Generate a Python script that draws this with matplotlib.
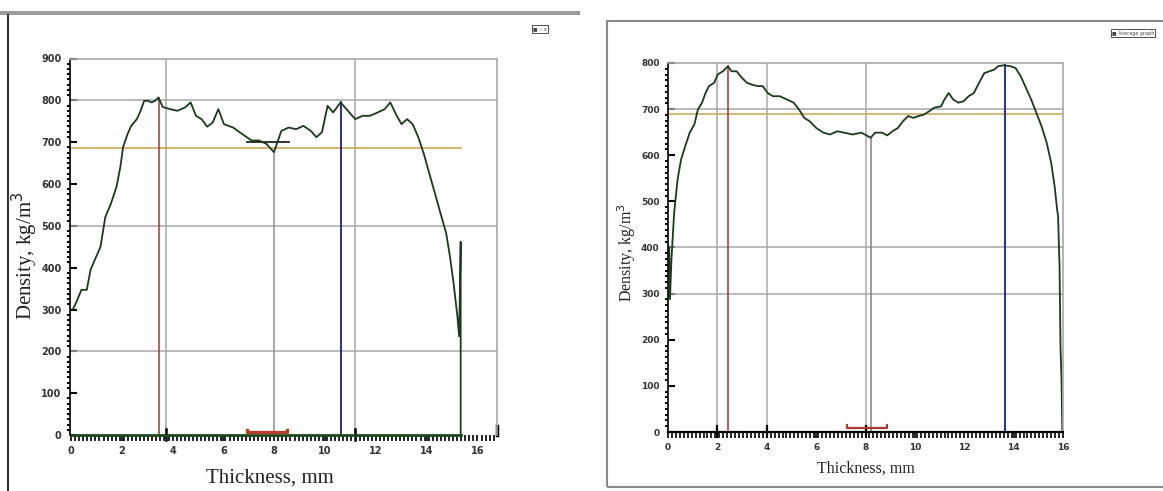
import matplotlib
matplotlib.use("Agg")
import matplotlib.pyplot as plt
from matplotlib.patches import Rectangle
import numpy as np

# ---- left profile (screenshot 1) ----
left_x = [0.0, 0.07, 0.19, 0.41, 0.62, 0.77, 0.99, 1.16, 1.35, 1.57, 1.79, 1.94, 2.05, 2.23, 2.37,
          2.59, 2.74, 2.88, 3.03, 3.17, 3.32, 3.44, 3.61, 3.9, 4.19, 4.49, 4.71, 4.92, 5.14, 5.36,
          5.58, 5.8, 6.02, 6.38, 6.82, 7.11, 7.4, 7.69, 7.99, 8.28, 8.57, 8.86, 9.15, 9.44, 9.66,
          9.88, 10.1, 10.32, 10.61, 10.9, 11.19, 11.48, 11.77, 12.07, 12.35, 12.57, 12.79, 13.01,
          13.23, 13.45, 13.67, 13.89, 14.11, 14.33, 14.55, 14.77, 14.92, 15.06, 15.21, 15.28,
          15.34, 15.34]
left_y = [300, 300, 315, 347, 347, 395, 426, 450, 521, 553, 593, 640, 688, 720, 739,
          755, 775, 799, 799, 795, 799, 807, 784, 779, 775, 783, 795, 763, 755, 737,
          747, 779, 743, 735, 716, 704, 704, 696, 676, 727, 735, 731, 739, 727, 712,
          724, 787, 771, 795, 775, 755, 763, 763, 771, 779, 795, 767, 743,
          755, 743, 712, 672, 624, 577, 529, 482, 426, 363, 284, 236,
          462, 0]
left_xticks = [0, 2, 4, 6, 8, 10, 12, 14, 16]
left_yticks = [0, 100, 200, 300, 400, 500, 600, 700, 800, 900]
left_vgrid = [3.74, 11.18]
left_hgrid = [200, 500, 800]
left_avg = 685
left_red, left_blue, left_mid = 3.47, 10.63, 8.01
left_core = (6.93, 8.6, 700)
left_bracket = (6.93, 8.49)

# ---- right profile (screenshot 2) ----
right_x = [0.05, 0.08, 0.14, 0.25, 0.39, 0.53, 0.7, 0.88, 1.07, 1.21, 1.38, 1.52, 1.66, 1.87, 2.01,
           2.22, 2.43, 2.57, 2.78, 2.99, 3.2, 3.41, 3.62, 3.83, 4.04, 4.25, 4.53, 4.81, 5.09,
           5.31, 5.52, 5.73, 6.01, 6.29, 6.57, 6.85, 7.13, 7.48, 7.83, 8.21, 8.39, 8.67, 8.88,
           9.09, 9.31, 9.52, 9.73, 9.94, 10.15, 10.36, 10.57, 10.78, 11.06, 11.2, 11.37, 11.55,
           11.76, 11.97, 12.18, 12.39, 12.6, 12.81, 13.02, 13.23, 13.37, 13.59, 13.87, 14.08,
           14.29, 14.5, 14.71, 14.92, 15.13, 15.34, 15.52, 15.66, 15.76, 15.8, 15.86, 15.9,
           15.94, 15.97]
right_y = [400, 288, 375, 476, 548, 591, 620, 649, 667, 699, 714, 735, 750, 757, 775,
           782, 793, 782, 782, 768, 757, 753, 750, 750, 735, 728, 728, 721, 714,
           699, 681, 674, 659, 649, 645, 652, 649, 645, 649, 638, 649, 649, 643,
           652, 659, 674, 685, 681, 685, 688, 695, 703, 706, 721, 735, 721,
           714, 717, 728, 735, 757, 778, 782, 786, 793, 795, 793, 789,
           771, 746, 721, 692, 663, 627, 584, 533, 483, 468, 360, 180,
           115, 0]
right_xticks = [0, 2, 4, 6, 8, 10, 12, 14, 16]
right_yticks = [0, 100, 200, 300, 400, 500, 600, 700, 800]
right_vgrid = [2, 4, 8]
right_hgrid = [300, 400, 700]
right_avg = 690
right_red, right_blue, right_mid = 2.43, 13.66, 8.21
right_bracket = (7.24, 8.88)

W, H = 1163, 491
CURVE = "#1c3a1c"
GRID = "#a8a8a8"


def box(x0, y0, x1, y1):
    # pixel box (top-left origin) -> figure rect
    return [x0 / W, (H - y1) / H, (x1 - x0) / W, (y1 - y0) / H]


def style_axes(ax, xlim, ylim, xticks, yticks, tsize, xpad):
    ax.set_xlim(*xlim)
    ax.set_ylim(*ylim)
    ax.set_xticks(xticks)
    ax.set_yticks(yticks)
    ax.set_xticklabels([str(t) for t in xticks])
    ax.set_yticklabels([str(t) for t in yticks])
    ax.set_xticks(np.arange(0, xlim[1], 0.16), minor=True)
    ax.set_yticks(np.arange(0, ylim[1], 12.5), minor=True)
    ax.tick_params(axis="x", which="major", direction="out", length=4, width=1.2,
                   labelsize=tsize, pad=xpad, colors="black")
    ax.tick_params(axis="x", which="minor", direction="out", length=4, width=1.2)
    ax.tick_params(axis="y", which="major", direction="in", length=5, width=1.5,
                   labelsize=tsize, pad=6)
    ax.tick_params(axis="y", which="minor", direction="out", length=2, width=1.4)
    for lab in ax.get_xticklabels() + ax.get_yticklabels():
        lab.set_fontweight("bold")
        lab.set_color("#333333")
        lab.set_family("DejaVu Sans")
    for s in ("top", "right"):
        ax.spines[s].set_color(GRID)
        ax.spines[s].set_linewidth(1.2)
    ax.spines["left"].set_linewidth(1.2)
    ax.spines["bottom"].set_linewidth(1.6)


fig = plt.figure(figsize=(W / 100, H / 100), dpi=100)

# window frames
fig.patches.append(Rectangle((0, 1 - 15 / H), 580 / W, 4 / H, transform=fig.transFigure,
                             facecolor="#9c9c9c", edgecolor="none"))
fig.lines.append(plt.Line2D([8 / W, 8 / W], [0, 1 - 15 / H], transform=fig.transFigure,
                            color="#333333", lw=1.5))
fig.patches.append(Rectangle((607 / W, 4 / H), 0.6, 1 - 25 / H, transform=fig.transFigure,
                             facecolor="none", edgecolor="#8a8a8a", lw=1.5))

# ---------------- left chart ----------------
ax1 = fig.add_axes(box(70, 58.5, 497, 435))
style_axes(ax1, (-0.04, 16.77), (0, 900), left_xticks, left_yticks, 7, 4)
for g in left_vgrid:
    ax1.axvline(g, color=GRID, lw=1.1)
    ax1.plot([g, g], [-12, 14], color="black", lw=1.8, clip_on=False)
for g in left_hgrid:
    ax1.axhline(g, color=GRID, lw=1.1)
ax1.plot([0, left_x[-1]], [left_avg, left_avg], color="#c8a850", lw=1.2)
ax1.plot([left_red, left_red], [0, 805], color="#b03030", lw=1.1)
ax1.plot([left_blue, left_blue], [0, 795], color="#202080", lw=1.3)
ax1.plot([left_mid, left_mid], [0, 676], color="#909090", lw=1.1)
ax1.plot([left_core[0], left_core[1]], [left_core[2], left_core[2]], color="#1c2a1c", lw=1.3)
ax1.plot(left_x, left_y, color=CURVE, lw=1.3)
ax1.plot([0, left_x[-1]], [0, 0], color="#1f4a1f", lw=2.0, clip_on=False)
ax1.plot([left_bracket[0], left_bracket[0], left_bracket[1], left_bracket[1]],
         [12, 7, 7, 12], color="#b5402c", lw=2.4)
ax1.plot([16.77, 16.77], [0, 22], color="black", lw=2.5, clip_on=False)
ax1.spines["bottom"].set_visible(False)

fig.text(270 / W, 1 - 478 / H, "Thickness, mm", ha="center", va="center",
         fontsize=15, family="Liberation Serif", color="#222222")
fig.text(25 / W, 1 - 256 / H, "Density, kg/m$^3$", ha="center", va="center",
         rotation=90, fontsize=15, family="Liberation Serif", color="#222222")

# ---------------- right chart ----------------
ax2 = fig.add_axes(box(668, 63, 1063, 432))
style_axes(ax2, (0, 16), (0, 800), right_xticks, right_yticks, 6.5, 4)
for g in right_vgrid:
    ax2.axvline(g, color=GRID, lw=1.1)
    ax2.plot([g, g], [-10, 14], color="black", lw=1.6, clip_on=False)
for g in right_hgrid:
    ax2.axhline(g, color=GRID, lw=1.1)
ax2.plot([0, 16], [right_avg, right_avg], color="#c8b060", lw=1.2)
ax2.plot([right_red, right_red], [0, 793], color="#b03030", lw=1.1)
ax2.plot([right_blue, right_blue], [0, 795], color="#2030a0", lw=1.4)
ax2.plot([right_mid, right_mid], [0, 638], color="#808080", lw=1.1)
ax2.plot(right_x, right_y, color=CURVE, lw=1.3)
ax2.plot([right_bracket[0], right_bracket[0], right_bracket[1], right_bracket[1]],
         [16, 8, 8, 16], color="#a83a30", lw=1.6)

fig.text(866 / W, 1 - 469 / H, "Thickness, mm", ha="center", va="center",
         fontsize=11.5, family="Liberation Serif", color="#222222")
fig.text(627 / W, 1 - 253 / H, "Density, kg/m$^3$", ha="center", va="center",
         rotation=90, fontsize=11.5, family="Liberation Serif", color="#222222")

# tiny legend boxes from the software windows
fig.text(533 / W, 1 - 29 / H, "\u25a0 :: x", ha="left", va="center", fontsize=3.5,
         color="#444444", bbox=dict(facecolor="white", edgecolor="#333333", lw=0.6, pad=0.8))
fig.text(1112 / W, 1 - 33 / H, "\u25a0 Average graph", ha="left", va="center", fontsize=3.5,
         color="#444444", bbox=dict(facecolor="white", edgecolor="#333333", lw=0.6, pad=0.8))

fig.savefig("out.png", dpi=100)
